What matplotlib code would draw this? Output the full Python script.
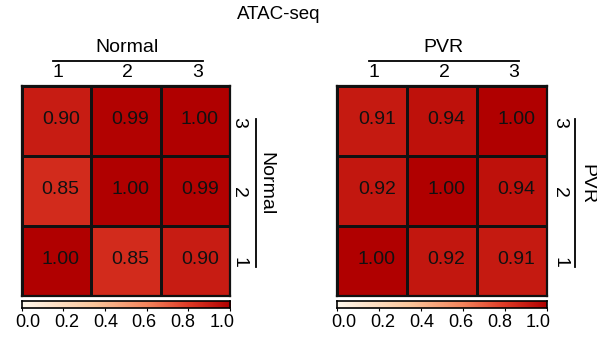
import numpy as np
import matplotlib
matplotlib.use("Agg")
import matplotlib.pyplot as plt
from matplotlib.colors import LinearSegmentedColormap
from matplotlib.lines import Line2D

plt.rcParams['font.family'] = ['Liberation Sans', 'DejaVu Sans']

labels = ["1", "2", "3"]
normal_vals = [[1.00, 0.85, 0.90],   # row 1 (bottom)
               [0.85, 1.00, 0.99],   # row 2
               [0.90, 0.99, 1.00]]   # row 3 (top)
pvr_vals = [[1.00, 0.92, 0.91],
            [0.92, 1.00, 0.94],
            [0.91, 0.94, 1.00]]
cbar_ticks = [0.0, 0.2, 0.4, 0.6, 0.8, 1.0]

cmap = LinearSegmentedColormap.from_list(
    "atac", [(0.0, "#fff8ec"), (0.35, "#fbc59a"), (0.6, "#f4845c"),
             (0.8, "#de3a26"), (1.0, "#b00000")])

W, H = 597, 338
fig = plt.figure(figsize=(W / 100, H / 100), dpi=100)

def fx(x):
    return x / W

def fy(y):
    return 1 - y / H

def ftext(x, y, s, va="center", **kw):
    fig.text(fx(x), fy(y), s, ha="center", va=va, **kw)

def fline(xs, ys, lw=1.3):
    fig.add_artist(Line2D([fx(v) for v in xs], [fy(v) for v in ys],
                          color="black", lw=lw, transform=fig.transFigure))

def panel(x0, x1, vals, name, lab_dx, line_dx, name_dx):
    y0, y1 = 86, 296
    ax = fig.add_axes([fx(x0), fy(y1), fx(x1) - fx(x0), fy(y0) - fy(y1)])
    data = np.array(vals)
    ax.pcolormesh(np.arange(4), np.arange(4), data, cmap=cmap, vmin=0, vmax=1,
                  edgecolors="#111111", linewidth=1.0)
    for i in range(3):
        for j in range(3):
            ax.annotate(f"{data[i, j]:.2f}", (j + 0.5, i + 0.5), xytext=(4.5, 1.5),
                        textcoords="offset pixels", ha="center", va="center",
                        fontsize=14, color="#111111")
    ax.set_xlim(0, 3)
    ax.set_ylim(0, 3)
    ax.set_xticks([])
    ax.set_yticks([])
    for s in ax.spines.values():
        s.set_linewidth(1.6)
        s.set_color("#111111")
    cw = (x1 - x0) / 3
    ch = (y1 - y0) / 3
    # column labels on top
    for j, lab in enumerate(labels):
        ftext(x0 + cw * (j + 0.5) + 2, 77, lab, va="baseline", fontsize=14)
    fline([x0 + 31, x0 + 181], [60.5, 60.5])
    ftext((x0 + x1) / 2 + 1, 51.7, name, va="baseline", fontsize=14)
    # row labels on right
    for i, lab in enumerate(labels):
        ftext(x1 + lab_dx, y1 - ch * (i + 0.5) + 1.5, lab, fontsize=14, rotation=270)
    fline([x1 + line_dx, x1 + line_dx], [119, 267])
    ftext(x1 + name_dx, 184, name, fontsize=14, rotation=270)
    # colorbar
    cax = fig.add_axes([fx(x0), fy(307.5), fx(x1) - fx(x0), fy(301) - fy(307.5)])
    grad = np.linspace(0, 1, 256).reshape(1, -1)
    cax.imshow(grad, aspect="auto", cmap=cmap, extent=[0, 1, 0, 1])
    cax.set_yticks([])
    cax.set_xticks(cbar_ticks)
    cax.set_xticklabels([])
    cax.tick_params(axis="x", length=2.5, width=0.8)
    for s in cax.spines.values():
        s.set_linewidth(1.2)
    lx0, lx1 = x0 + 6, x1 - 8
    for k, t in enumerate(cbar_ticks):
        ftext(lx0 + (lx1 - lx0) * k / (len(cbar_ticks) - 1), 327, f"{t:.1f}",
              va="baseline", fontsize=13)

panel(21.5, 230, normal_vals, "Normal", 8.5, 25.7, 35.5)
panel(337.5, 546.5, pvr_vals, "PVR", 13.5, 28.5, 40.0)

ftext(279, 14.5, "ATAC-seq", fontsize=13.5)

fig.savefig("out.png", dpi=100)
